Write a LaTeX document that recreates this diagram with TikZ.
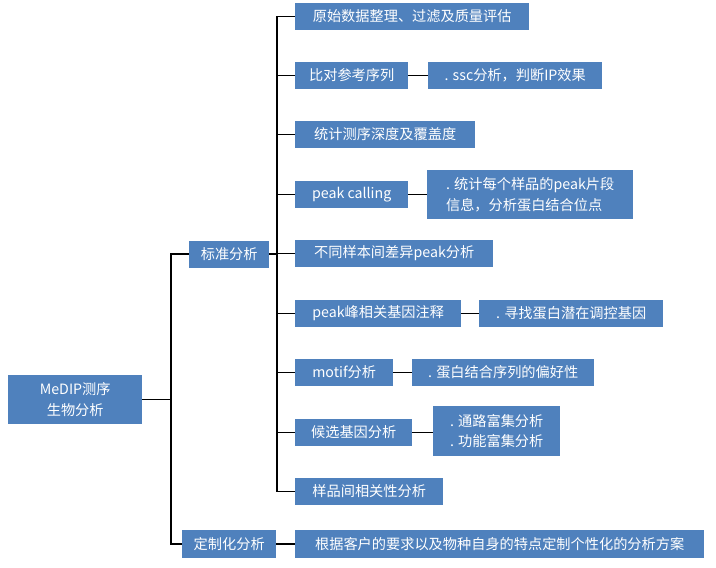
\documentclass[tikz,border=0pt]{standalone}
\usepackage{fontspec}
\setmainfont{Noto Sans CJK SC}
\definecolor{boxblue}{HTML}{4F81BD}
\tikzset{
  box/.style={fill=boxblue, text=white, inner sep=0pt, minimum height=27pt, anchor=west,
    font=\fontsize{14.2pt}{20.5pt}\selectfont, align=center},
  tallbox/.style={box, align=left},
  conn/.style={draw=black, line width=1.2pt}
}
\begin{document}
\begin{tikzpicture}[x=1pt,y=-1pt]
\useasboundingbox (0,0) rectangle (716,568);
% root and level 1
\node[box, minimum width=134pt, minimum height=49pt] (root) at (8,399.5) {MeDIP测序\\生物分析};
\node[box, minimum width=80pt] (std) at (189,254) {标准分析};
\node[box, minimum width=94pt, minimum height=28pt] (cust) at (182,544) {定制化分析};
% level 2
\node[box, minimum width=234pt] (b1) at (295,16.5) {原始数据整理、过滤及质量评估};
\node[box, minimum width=113pt] (b2) at (295,75.5) {比对参考序列};
\node[box, minimum width=180pt] (b3) at (295,134.5) {统计测序深度及覆盖度};
\node[box, minimum width=113pt] (b4) at (295,194.5) {peak calling};
\node[box, minimum width=198pt] (b5) at (295,253.5) {不同样本间差异peak分析};
\node[box, minimum width=166pt] (b6) at (295,313.5) {peak峰相关基因注释};
\node[box, minimum width=98pt] (b7) at (295,372.5) {motif分析};
\node[box, minimum width=117pt] (b8) at (295,432.5) {候选基因分析};
\node[box, minimum width=148pt] (b9) at (295,491.5) {样品间相关性分析};
\node[box, minimum width=409pt, minimum height=28pt] (c1) at (295,544) {根据客户的要求以及物种自身的特点定制个性化的分析方案};
% details
\node[box, minimum width=174pt] (d2) at (428,75.5) {. ssc分析，判断IP效果};
\node[tallbox, minimum width=206pt, minimum height=49pt] (d4) at (427,194.5) {. 统计每个样品的peak片段\\信息，分析蛋白结合位点};
\node[box, minimum width=184pt] (d6) at (479,313.5) {. 寻找蛋白潜在调控基因};
\node[box, minimum width=182pt] (d7) at (412,372.5) {. 蛋白结合序列的偏好性};
\node[tallbox, minimum width=127pt, minimum height=50pt] (d8) at (433,431) {. 通路富集分析\\. 功能富集分析};
% junctions
\coordinate (j0) at (171,399.5);
\coordinate (j1) at (277,254);
% connectors level 1
\draw[conn] (root.east) -- (j0);
\draw[conn] (std.west) -| (j0) |- (cust.west);
\draw[conn] (cust.east) -- (c1.west);
% connectors level 2
\draw[conn] (std.east) -- (j1);
\draw[conn] (b1.west) -| (j1) |- (b9.west);
\foreach \n in {b2,b3,b4,b5,b6,b7,b8}{
  \draw[conn] (j1 |- \n.west) -- (\n.west);
}
% detail connectors
\draw[conn] (b2.east) -- (b2.east -| d2.west);
\draw[conn] (b4.east) -- (b4.east -| d4.west);
\draw[conn] (b6.east) -- (b6.east -| d6.west);
\draw[conn] (b7.east) -- (b7.east -| d7.west);
\draw[conn] (b8.east) -- (b8.east -| d8.west);
\end{tikzpicture}
\end{document}
